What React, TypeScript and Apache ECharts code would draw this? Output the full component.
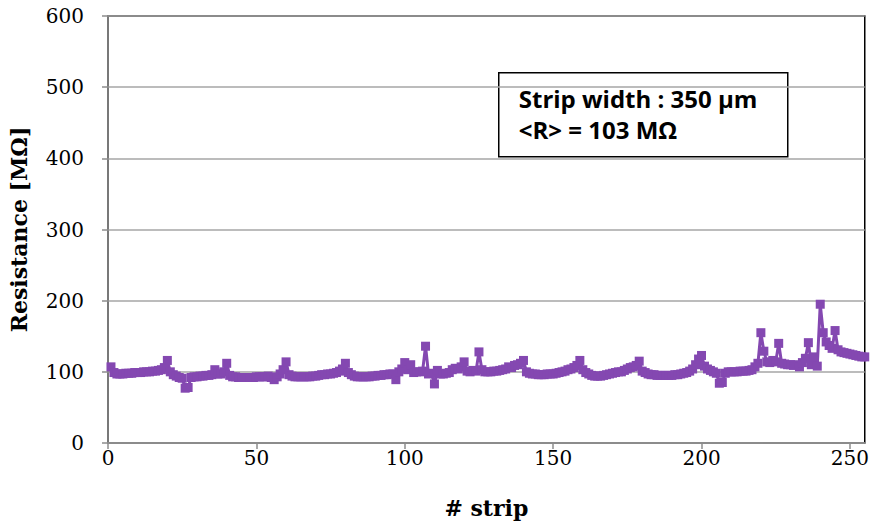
import React, { useEffect, useRef } from "react";
import * as echarts from "echarts";

const strips: number[] = Array.from({ length: 255 }, (_, i) => i + 1);

const resistance: number[] = [
  // 1-20
  107, 99, 97, 97, 97, 98, 98, 98, 99, 99, 99, 100, 100, 100, 101, 101, 102, 103, 106, 116,
  // 21-40
  100, 96, 94, 92, 91, 77, 78, 92, 93, 93, 94, 94, 95, 95, 96, 103, 97, 97, 100, 112,
  // 41-60
  95, 93, 93, 92, 92, 92, 92, 92, 92, 93, 93, 93, 93, 94, 92, 89, 93, 97, 103, 114,
  // 61-80
  96, 94, 93, 93, 93, 93, 93, 93, 94, 94, 95, 96, 96, 97, 97, 98, 99, 101, 104, 112,
  // 81-100
  99, 96, 94, 93, 93, 93, 93, 93, 94, 94, 95, 95, 96, 96, 97, 97, 89, 100, 104, 113,
  // 101-120
  103, 110, 99, 100, 100, 101, 136, 97, 98, 83, 102, 97, 97, 98, 99, 103, 105, 104, 107, 114,
  // 121-140
  101, 100, 102, 101, 128, 103, 100, 100, 100, 101, 101, 102, 103, 104, 107, 106, 109, 110, 112, 116,
  // 141-160
  100, 98, 97, 97, 96, 96, 96, 97, 97, 97, 98, 99, 100, 101, 103, 104, 106, 109, 116, 103,
  // 161-180
  99, 97, 95, 94, 94, 94, 95, 96, 97, 98, 99, 100, 100, 102, 104, 106, 107, 109, 115, 101,
  // 181-200
  99, 97, 96, 96, 95, 95, 95, 95, 95, 95, 96, 96, 97, 98, 99, 101, 104, 110, 118, 123,
  // 201-220
  108, 104, 102, 100, 98, 84, 85, 98, 100, 100, 100, 100, 101, 101, 101, 102, 103, 107, 112, 155,
  // 221-240
  129, 114, 113, 116, 114, 140, 112, 111, 110, 110, 109, 110, 107, 113, 119, 141, 110, 121, 108, 195,
  // 241-255
  155, 142, 137, 133, 158, 131, 128, 127, 126, 125, 124, 123, 122, 121, 121,
];

const yTicks = [0, 100, 200, 300, 400, 500, 600];
const xTicks = [0, 50, 100, 150, 200, 250];
const annotationLines = ["Strip width : 350 µm", "<R> = 103 MΩ"];

const PURPLE = "#8448B1";

export default function App() {
  const ref = useRef<HTMLDivElement>(null);
  useEffect(() => {
    if (!ref.current) return;
    const chart = echarts.init(ref.current, undefined, { renderer: "svg" });
    const data = strips.map((s, i) => [s, resistance[i]]);
    chart.setOption({
      animation: false,
      backgroundColor: "#ffffff",
      grid: {
        left: 108,
        right: 6,
        top: 16,
        bottom: 82,
        show: true,
        borderColor: "#000000",
        borderWidth: 1.5,
        backgroundColor: "transparent",
      },
      xAxis: {
        type: "value",
        min: 0,
        max: 255,
        interval: 50,
        name: "# strip",
        nameLocation: "middle",
        nameGap: 54,
        nameTextStyle: { fontFamily: "DejaVu Serif", fontWeight: "bold", fontSize: 22, color: "#000" },
        axisLine: { show: true, lineStyle: { color: "#8c8c8c", width: 1.5 } },
        axisTick: { show: true, inside: false, length: 6, lineStyle: { color: "#8c8c8c", width: 1.5 } },
        axisLabel: {
          fontFamily: "DejaVu Serif",
          fontSize: 20,
          color: "#000",
          margin: 5,
          showMaxLabel: false,
          formatter: (v: number) => (xTicks.includes(v) ? String(v) : ""),
        },
        splitLine: { show: false },
      },
      yAxis: {
        type: "value",
        min: 0,
        max: 600,
        interval: 100,
        name: "Resistance [MΩ]",
        nameLocation: "middle",
        nameGap: 78,
        nameRotate: 90,
        nameTextStyle: { fontFamily: "DejaVu Serif", fontWeight: "bold", fontSize: 22, color: "#000" },
        axisLine: { show: true, lineStyle: { color: "#8c8c8c", width: 1.5 } },
        axisTick: { show: true, inside: false, length: 6, lineStyle: { color: "#8c8c8c", width: 1.5 } },
        axisLabel: {
          fontFamily: "DejaVu Serif",
          fontSize: 20,
          color: "#000",
          margin: 24,
          formatter: (v: number) => (yTicks.includes(v) ? String(v) : ""),
        },
        splitLine: { show: true, lineStyle: { color: "#a6a6a6", width: 1.5 } },
      },
      series: [
        {
          type: "line",
          data,
          symbol: "rect",
          symbolSize: 9,
          showAllSymbol: true,
          itemStyle: { color: PURPLE },
          lineStyle: { color: PURPLE, width: 3 },
          z: 5,
        },
      ],
      graphic: [
        {
          type: "group",
          left: 498,
          top: 72,
          z: 10,
          children: [
            {
              type: "rect",
              shape: { x: 0, y: 0, width: 289, height: 84 },
              style: { fill: "#ffffff", stroke: "#000000", lineWidth: 1.5 },
            },
            {
              type: "text",
              x: 20,
              y: 14,
              style: {
                text: annotationLines[0],
                font: "bold 24px 'Open Sans'",
                fill: "#000",
              },
            },
            {
              type: "text",
              x: 20,
              y: 45,
              style: {
                text: annotationLines[1],
                font: "bold 24px 'Open Sans'",
                fill: "#000",
              },
            },
          ],
        },
      ],
    });
    return () => chart.dispose();
  }, []);
  return (
    <div
      ref={ref}
      style={{ position: "fixed", left: 0, top: 0, width: 872, height: 525 }}
    />
  );
}
